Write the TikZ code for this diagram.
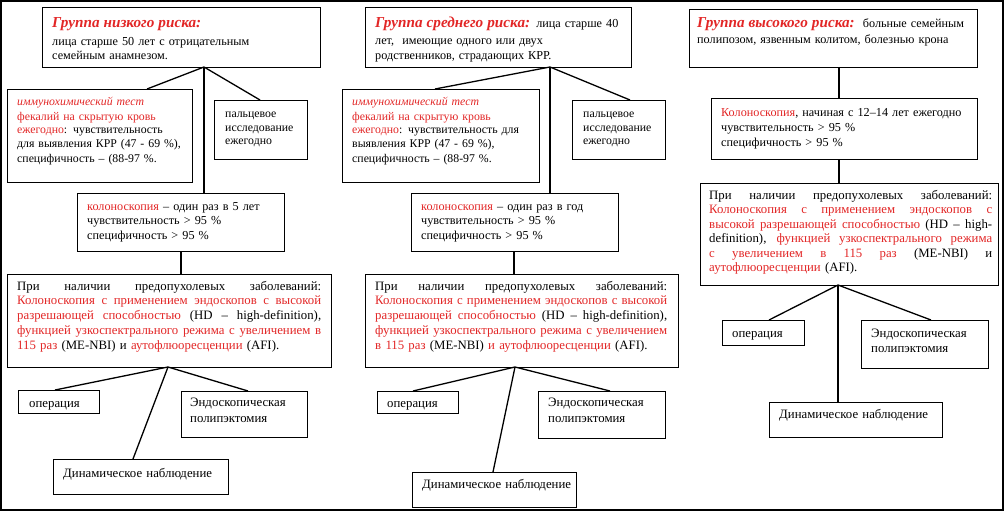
\documentclass[tikz,border=0pt]{standalone}
\usepackage{fontspec}
\setmainfont{Liberation Serif}
\usetikzlibrary{calc}
\definecolor{rd}{RGB}{226,38,38}
\newcommand\R[1]{\textcolor{rd}{#1}}
\newcommand\jl[2]{\leavevmode\hbox to #1pt{\spaceskip=\fontdimen2\font plus 1fil\relax #2}}
\newcommand\ttl[1]{{\fontsize{15.2}{17}\selectfont\bfseries\itshape\color{rd}#1}}
\newcommand\mkbox[5]{\node[bx, minimum width=#4-#2, minimum height=#5-#3] (#1) at (#2,#3) {};}
\tikzset{
 bx/.style={draw, line width=1.3pt, inner sep=0pt, anchor=north west},
 cn/.style={line width=1.3pt},
 tx/.style={anchor=base west, inner sep=0pt, align=left, font=\fontsize{12.2}{14}\selectfont},
 ti/.style={tx, font=\fontsize{11.8}{14}\selectfont},
 tc/.style={tx, font=\fontsize{12.2}{14.5}\selectfont},
 tb/.style={tx, font=\fontsize{12.8}{14.8}\selectfont},
 tl/.style={tx, font=\fontsize{12.8}{15}\selectfont},
}
\begin{document}
\begin{tikzpicture}[x=1pt,y=-1pt]
\useasboundingbox (0,0) rectangle (1004,511);
\draw[line width=1.5pt] (1,1) rectangle (1003,510);

% ---------- column 1 ----------
\mkbox{b11}{42}{7}{320}{67}
\node[tx, text width=265] (t11) at (52,28) {\ttl{Группа низкого риска:}\\[4pt] лица старше 50 лет с отрицательным\\ семейным анамнезом.};
\mkbox{b12}{7}{89}{192}{182}
\node[ti, text width=172] (t12) at (17,106) {\R{\textit{иммунохимический тест}}\\ \R{фекалий на скрытую кровь}\\ \R{ежегодно}: чувствительность\\ для выявления КРР (47 - 69 \%),\\ специфичность – (88-97 \%.};
\mkbox{b13}{214}{100}{307}{159}
\node[ti, text width=80] (t13) at (225,117) {пальцевое\\ исследование\\ ежегодно};
\mkbox{b14}{77}{193}{284}{251}
\node[tc, text width=195] (t14) at (87,210) {\R{колоноскопия} – один раз в 5 лет\\ чувствительность > 95 \%\\ специфичность > 95 \%};
\mkbox{b15}{7}{274}{331}{367}
\node[tb, text width=304] (t15) at (17,290) {\jl{304}{При наличии предопухолевых заболеваний:}\\ \jl{304}{\R{Колоноскопия с применением эндоскопов с высокой}}\\ \jl{304}{\R{разрешающей способностью} (HD – high-definition),}\\ \jl{304}{\R{функцией узкоспектрального режима с увеличением в}}\\ \R{115 раз} (ME-NBI) и \R{аутофлюоресценции} (AFI).};
\mkbox{b16}{18}{390}{99}{413}
\node[tl, text width=70] (t16) at (29,407) {операция};
\mkbox{b17}{181}{391}{307}{437}
\node[tl, text width=115] (t17) at (190,406) {Эндоскопическая\\[1pt] полипэктомия};
\mkbox{b18}{53}{459}{228}{494}
\node[tl, text width=160] (t18) at (63,477) {Динамическое наблюдение};

\coordinate (j11) at (204,67);
\coordinate (e12) at (147,89);
\coordinate (e13) at (260,100);
\coordinate (j14) at (181,251);
\coordinate (j15) at (168,367);
\coordinate (e16) at (55,390);
\coordinate (e17) at (248,391);
\coordinate (e18) at (133,459);
\draw[cn] (j11) -- (e12);
\draw[cn] (j11) -- (e13);
\draw[cn] (j11) -- (j11 |- b14.north);
\draw[cn] (j14) -- (j14 |- b15.north);
\draw[cn] (j15) -- (e16);
\draw[cn] (j15) -- (e17);
\draw[cn] (j15) -- (e18);

% ---------- column 2 ----------
\mkbox{b21}{365}{7}{631}{67}
\node[tx, text width=262] (t21) at (375,28) {\ttl{Группа среднего риска:} лица старше 40\\[3pt] лет,\ \ имеющие одного или двух\\[1pt] родственников, страдающих КРР.};
\mkbox{b22}{342}{89}{539}{182}
\node[ti, text width=185] (t22) at (352,106) {\R{\textit{иммунохимический тест}}\\ \R{фекалий на скрытую кровь}\\ \R{ежегодно}: чувствительность для\\ выявления КРР (47 - 69 \%),\\ специфичность – (88-97 \%.};
\mkbox{b23}{572}{100}{665}{159}
\node[ti, text width=80] (t23) at (583,117) {пальцевое\\ исследование\\ ежегодно};
\mkbox{b24}{411}{193}{618}{251}
\node[tc, text width=195] (t24) at (421,210) {\R{колоноскопия} – один раз в год\\ чувствительность > 95 \%\\ специфичность > 95 \%};
\mkbox{b25}{365}{274}{678}{367}
\node[tb, text width=292] (t25) at (375,290) {\jl{292}{При наличии предопухолевых заболеваний:}\\ \jl{292}{\R{Колоноскопия с применением эндоскопов с высокой}}\\ \jl{292}{\R{разрешающей способностью} (HD – high-definition),}\\ \jl{292}{\R{функцией узкоспектрального режима с увеличением}}\\ \R{в 115 раз} (ME-NBI) \R{и аутофлюоресценции} (AFI).};
\mkbox{b26}{377}{391}{458}{413}
\node[tl, text width=70] (t26) at (387,407) {операция};
\mkbox{b27}{538}{391}{665}{438}
\node[tl, text width=115] (t27) at (548,406) {Эндоскопическая\\[1pt] полипэктомия};
\mkbox{b28}{412}{472}{576}{507}
\node[tl, text width=150] (t28) at (422,488) {Динамическое наблюдение};

\coordinate (j21) at (550,67);
\coordinate (e22) at (435,89);
\coordinate (e23) at (630,100);
\coordinate (j24) at (514,251);
\coordinate (j25) at (515,367);
\coordinate (e26) at (413,391);
\coordinate (e27) at (610,391);
\coordinate (e28) at (493,472);
\draw[cn] (j21) -- (e22);
\draw[cn] (j21) -- (e23);
\draw[cn] (j21) -- (j21 |- b24.north);
\draw[cn] (j24) -- (j24 |- b25.north);
\draw[cn] (j25) -- (e26);
\draw[cn] (j25) -- (e27);
\draw[cn] (j25) -- (e28);

% ---------- column 3 ----------
\mkbox{b31}{689}{9}{977}{67}
\node[tx, text width=280] (t31) at (697,28) {\ttl{Группа высокого риска:}\ \ больные семейным\\[2pt] полипозом, язвенным колитом, болезнью крона};
\mkbox{b32}{711}{98}{977}{159}
\node[tc, text width=255] (t32) at (721,116) {\R{Колоноскопия}, начиная с 12–14 лет ежегодно\\[0.5pt] чувствительность > 95 \%\\[0.5pt] специфичность > 95 \%};
\mkbox{b33}{700}{183}{998}{285}
\node[tx, font=\fontsize{12.8}{14.5}\selectfont, text width=283] (t33) at (709,199) {\jl{283}{При наличии предопухолевых заболеваний:}\\ \jl{283}{\R{Колоноскопия с применением эндоскопов с}}\\ \jl{283}{\R{высокой разрешающей способностью} (HD – high-}\\ \jl{283}{definition), \R{функцией узкоспектрального режима}}\\ \jl{283}{\R{с увеличением в 115 раз} (ME-NBI) и}\\ \R{аутофлюоресценции} (AFI).};
\mkbox{b34}{722}{320}{804}{345}
\node[tl, text width=70] (t34) at (732,337) {операция};
\mkbox{b35}{861}{320}{988}{368}
\node[tl, text width=115] (t35) at (871,337) {Эндоскопическая\\[0pt] полипэктомия};
\mkbox{b36}{769}{402}{942}{437}
\node[tl, text width=160] (t36) at (779,418) {Динамическое наблюдение};

\coordinate (j31) at (839,67);
\coordinate (j32) at (839,159);
\coordinate (j33) at (838,285);
\coordinate (e34) at (769,320);
\coordinate (e35) at (931,320);
\draw[cn] (j31) -- (j31 |- b32.north);
\draw[cn] (j32) -- (j32 |- b33.north);
\draw[cn] (j33) -- (e34);
\draw[cn] (j33) -- (e35);
\draw[cn] (j33) -- (j33 |- b36.north);
\end{tikzpicture}
\end{document}
